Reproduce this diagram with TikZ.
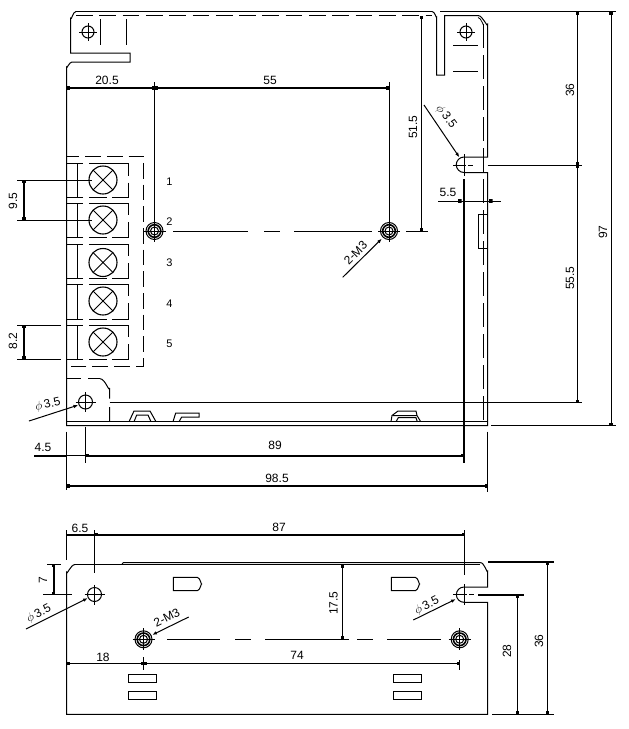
\documentclass[tikz,border=0pt]{standalone}
\usepackage{fontspec}
\setmainfont{Liberation Sans}
\usetikzlibrary{arrows.meta}
\tikzset{
  ln/.style={line width=1pt,line cap=butt},
  fine/.style={line width=0.8pt},
  thk/.style={line width=2pt},
  dsh/.style={line width=1pt,dash pattern=on 16.7pt off 6.6pt},
  dim/.style={line width=1pt,{Rectangle[length=3pt,width=3.5pt]}-{Rectangle[length=3pt,width=3.5pt]}},
  dimt/.style={line width=2pt,{Rectangle[length=3pt,width=3.5pt]}-{Rectangle[length=3pt,width=3.5pt]}},
  lead/.style={line width=1pt,-{Latex[length=5pt,width=3.5pt]}},
  lab/.style={font=\fontsize{12}{12}\selectfont,inner sep=0pt},
  sm/.style={font=\fontsize{11}{11}\selectfont,inner sep=0pt}
}
\newcommand{\crosshole}[3]{% x y r
  \draw[ln] (#1,#2) circle[radius=#3];
  \draw[fine] (#1-#3-3,#2) -- (#1+#3+3,#2) (#1,#2-#3-3) -- (#1,#2+#3+3);
}
\newcommand{\mhole}[2]{%
  \draw[ln] (#1,#2) circle[radius=8.5];
  \draw[line width=1.6pt] (#1,#2) circle[radius=6.3];
  \draw[ln] (#1,#2) circle[radius=4];
  \draw[fine] (#1-11,#2) -- (#1+11,#2) (#1,#2-11) -- (#1,#2+11);
}
\newcommand{\term}[4]{% top bottom cy gapy
  \draw[ln] (66.5,#1) -- (83,#1) (89.3,#1) -- (128.5,#1) -- (128.5,#4)
    (128.5,#4+7) -- (128.5,#2) -- (111.7,#2) (106.7,#2) -- (89.3,#2) (83,#2) -- (66.5,#2);
  \draw[ln] (77.5,#1) -- (77.5,#2);
  \draw[line width=1.1pt] (103,#3) circle[radius=14];
  \draw[ln] (93.1,#3-9.9) -- (112.9,#3+9.9) (93.1,#3+9.9) -- (112.9,#3-9.9);
}
\begin{document}
\begin{tikzpicture}[x=1pt,y=-1pt]
\useasboundingbox (0,0) rectangle (629,729);
% ---------- top view outline
\draw[ln] (76,11.5) -- (432,11.5);
\draw[dsh] (76,15.5) -- (432,15.5);
\draw[ln] (76,11.5) to[out=180,in=-70] (70.5,18) -- (70.5,53) -- (130,53) -- (130,62) -- (72,62)
  to[out=180,in=-90] (66.5,67) -- (66.5,425.5) -- (487.7,425.5) -- (487.7,172.5) -- (464,172.5)
  arc[start angle=90,end angle=270,radius=7.75] -- (487.7,157) -- (487.7,24) to[out=-90,in=0] (478,15.5) -- (444.7,15.5) -- (444.7,75) -- (436.7,75) -- (436.7,17) to[out=-90,in=10] (432,11.5);
\draw[ln] (66.5,421.7) -- (487.7,421.7);
\draw[ln] (100.5,19) -- (100.5,45) (126,19) -- (126,45);
\draw[ln] (453,45) -- (478,45) (453,71) -- (478,71);
\crosshole{88}{32}{6}
\crosshole{466}{32}{6}
\draw[fine] (478,17.5) to[out=0,in=-90] (483.5,24);
\draw[line width=1pt,dash pattern=on 24pt off 7pt] (483.5,24) -- (483.5,421.7);
\draw[ln] (478,214) rectangle (487.7,248);
% notch centre
\draw[fine] (464,154) -- (464,176);
\draw[fine] (453,165) -- (466,165);
\draw[fine,dash pattern=on 5pt off 3pt] (468,165) -- (476,165);
% terminal block
\draw[line width=1pt,dash pattern=on 15.7pt off 6pt,dash phase=3pt] (66.5,156) -- (143.5,156) -- (143.5,366) -- (66.5,366);
\term{163.5}{197}{180}{175.5}
\term{203}{237}{220}{215}
\term{244}{278}{262.5}{256}
\term{284}{319}{301}{296}
\term{325}{359}{342}{337}
% lower-left tab
\draw[ln] (66.5,378.7) -- (81,378.7) (88,378.7) -- (100,378.7);
\draw[ln] (100,378.7) to[out=0,in=-90] (109.5,388) -- (109.5,398.5) (109.5,407) -- (109.5,421.7);
\draw[ln] (109.5,402.5) -- (581.7,402.5);
\crosshole{85.5}{402}{7}
% bumps
\draw[ln] (129,421.7) -- (134,411) -- (150,411) -- (156,421.7)
  (134,421.7) -- (136.7,415) -- (148,415) -- (151,421.7);
\draw[ln] (173,421.7) -- (175.7,413) -- (199,413) -- (199,417) -- (181.7,417) -- (179,421.7);
\draw[ln] (391,421.7) -- (392,415.5) -- (398,411) -- (416,411) -- (417,415.5) -- (420.7,421.7)
  (396,421.7) -- (398.3,417.7) -- (416,417.7) -- (417.3,421.7) (393,415.5) -- (417,415.5);
% M3 holes
\mhole{154.5}{231}
\mhole{389}{231}
\draw[ln] (173,231) -- (248,231) (264,231) -- (280,231) (294,231) -- (372,231) (406,231) -- (428,231);
% top dimensions
\draw[ln] (154.5,82) -- (154.5,220) (389,82) -- (389,220);
\draw[dimt] (66.5,88) -- (154.5,88);
\draw[dimt] (154.5,88) -- (389,88);
\node[lab] (t205) at (107,80) {20.5};
\node[lab] (t55) at (270,80.5) {55};
\draw[dim] (421.7,15.5) -- (421.7,231);
\node[lab,rotate=90] (t515) at (413,127) {51.5};
\draw[ln] (440,11.5) -- (616,11.5);
\draw[ln] (487.7,165) -- (581.7,165);
\draw[dim] (577.3,12) -- (577.3,165);
\draw[dim] (577.3,165) -- (577.3,402.5);
\node[lab,rotate=90] (t36a) at (570,90) {36};
\node[lab,rotate=90] (t555) at (570,278) {55.5};
\draw[dim] (611,12) -- (611,425.5);
\node[lab,rotate=90] (t97) at (603,232) {97};
\draw[ln] (491,425.5) -- (616,425.5);
% 5.5
\draw[line width=2pt] (464,179) -- (464,463);
\draw[ln] (438,201) -- (500.7,201);
\fill (458,199.2) rectangle (461.5,202.8) (489,199.2) rectangle (492.5,202.8);
\node[lab] (t55b) at (448,192) {5.5};
% leader phi 3.5 top right
\draw[lead] (424,105) -- (459.5,157.5);
\node[lab,rotate=-53] (tp1) at (446,117) {$\phi$\,3.5};
% 2-M3 top
\draw[lead] (342.7,277.3) -- (382,238.5);
\node[lab,rotate=45] (tm1) at (355.5,253) {2-M3};
% phi lower left
\draw[lead] (29,421) -- (78.5,405);
\node[lab,rotate=13] (tp2) at (48,405) {$\phi$\,3.5};
% left dims
\draw[ln] (17,180) -- (92,180) (17,220) -- (92,220) (17,325) -- (61,325) (17,359) -- (61,359);
\draw[dimt] (24,180) -- (24,220);
\draw[dimt] (24,325) -- (24,359);
\node[lab,rotate=90] (t95) at (13,201) {9.5};
\node[lab,rotate=90] (t82) at (13,341) {8.2};
% numbers
\node[sm] (n1) at (169.5,182) {1};
\node[sm] (n2) at (169.5,222) {2};
\node[sm] (n3) at (169.5,263) {3};
\node[sm] (n4) at (169.5,304) {4};
\node[sm] (n5) at (169.5,344) {5};
% bottom dims of top view
\draw[ln] (66.5,431.7) -- (66.5,490) (85.5,426.7) -- (85.5,462.7) (487.7,431.7) -- (487.7,491.7);
\draw[thk] (34,455.7) -- (66.5,455.7);
\draw[ln] (66.5,455.7) -- (85.5,455.7);
\draw[dimt] (85.5,455.7) -- (464,455.7);
\draw[dimt] (66.5,486) -- (487.7,486);
\node[lab] (t45) at (43,447) {4.5};
\node[lab] (t89) at (275,445) {89};
\node[lab] (t985) at (277,478) {98.5};
% ---------- lower view
\draw[ln] (123,562.7) -- (480,562.7) (123,562.7) -- (122,564.5);
\draw[ln] (75,564.5) -- (480,564.5);
\draw[ln] (75,564.5) to[out=180,in=-90] (66.5,572) -- (66.5,714.3) -- (487.7,714.3) -- (487.7,602.3) -- (464,602.3)
  arc[start angle=90,end angle=270,radius=7.65] -- (487.7,587) -- (487.7,571) to[out=-90,in=20] (480,562.7);
\crosshole{94.5}{594.5}{7}
\draw[fine] (464.5,584) -- (464.5,605) (453,594.7) -- (467,594.7);
\draw[fine,dash pattern=on 5pt off 3pt] (469,594.7) -- (477,594.7);
\mhole{143.5}{639.3}
\mhole{459.7}{639.3}
\draw[ln] (167,639.3) -- (220,639.3) (235,639.3) -- (251,639.3) (265,639.3) -- (349,639.3) (357,639.3) -- (373,639.3) (387,639.3) -- (441,639.3);
% slots & rects
\foreach \x in {128.3,393.3}{
  \draw[ln] (\x,674.3) rectangle (\x+28.4,682.7);
  \draw[ln] (\x,691.3) rectangle (\x+28.4,699.7);
}
\foreach \x in {173.3,391.3}{
  \draw[ln] (\x,577.3) -- (\x+24,577.3) to[out=0,in=-90] (\x+28.4,584) to[out=90,in=0] (\x+24,590.7) -- (\x,590.7) -- cycle;
}
% lower dims
\draw[ln] (66.5,530) -- (66.5,560) (94.5,530) -- (94.5,573) (464.5,530) -- (464.5,575);
\draw[thk] (66.5,534.5) -- (94.5,534.5);
\draw[dimt] (94.5,534.5) -- (464.5,534.5);
\node[lab] (t65) at (80,528) {6.5};
\node[lab] (t87) at (279,527.5) {87};
\draw[ln] (47,564.3) -- (61,564.3) (43,594.5) -- (72,594.5);
\draw[dimt] (53.5,564.3) -- (53.5,594.5);
\node[lab,rotate=90] (t7) at (43,580) {7};
\draw[ln] (143.5,657) -- (143.5,670) (459.5,660) -- (459.5,670);
\draw[dim] (66.5,663.3) -- (143.5,663.3);
\draw[dim] (143.5,663.3) -- (459.5,663.3);
\node[lab] (t18) at (103,657) {18};
\node[lab] (t74) at (297,655) {74};
\draw[dim] (342.3,564.5) -- (342.3,639.3);
\node[lab,rotate=90] (t175) at (333.5,603) {17.5};
\draw[line width=2pt] (478,594.7) -- (524,594.7) (488,562) -- (554,562);
\draw[ln] (492,714.3) -- (554,714.3);
\draw[dim] (517.7,594.7) -- (517.7,714.3);
\draw[dim] (547.3,562) -- (547.3,714.3);
\node[lab,rotate=90] (t28) at (507,651) {28};
\node[lab,rotate=90] (t36b) at (539,641) {36};
\draw[lead] (26,629) -- (88,598);
\node[lab,rotate=27] (tp3) at (39,614) {$\phi$\,3.5};
\draw[lead] (188.7,617) -- (152,635);
\node[lab,rotate=27] (tm2) at (166.7,617.5) {2-M3};
\draw[lead] (413.3,620) -- (456,599);
\node[lab,rotate=27] (tp4) at (427,606) {$\phi$\,3.5};
\end{tikzpicture}
\end{document}
